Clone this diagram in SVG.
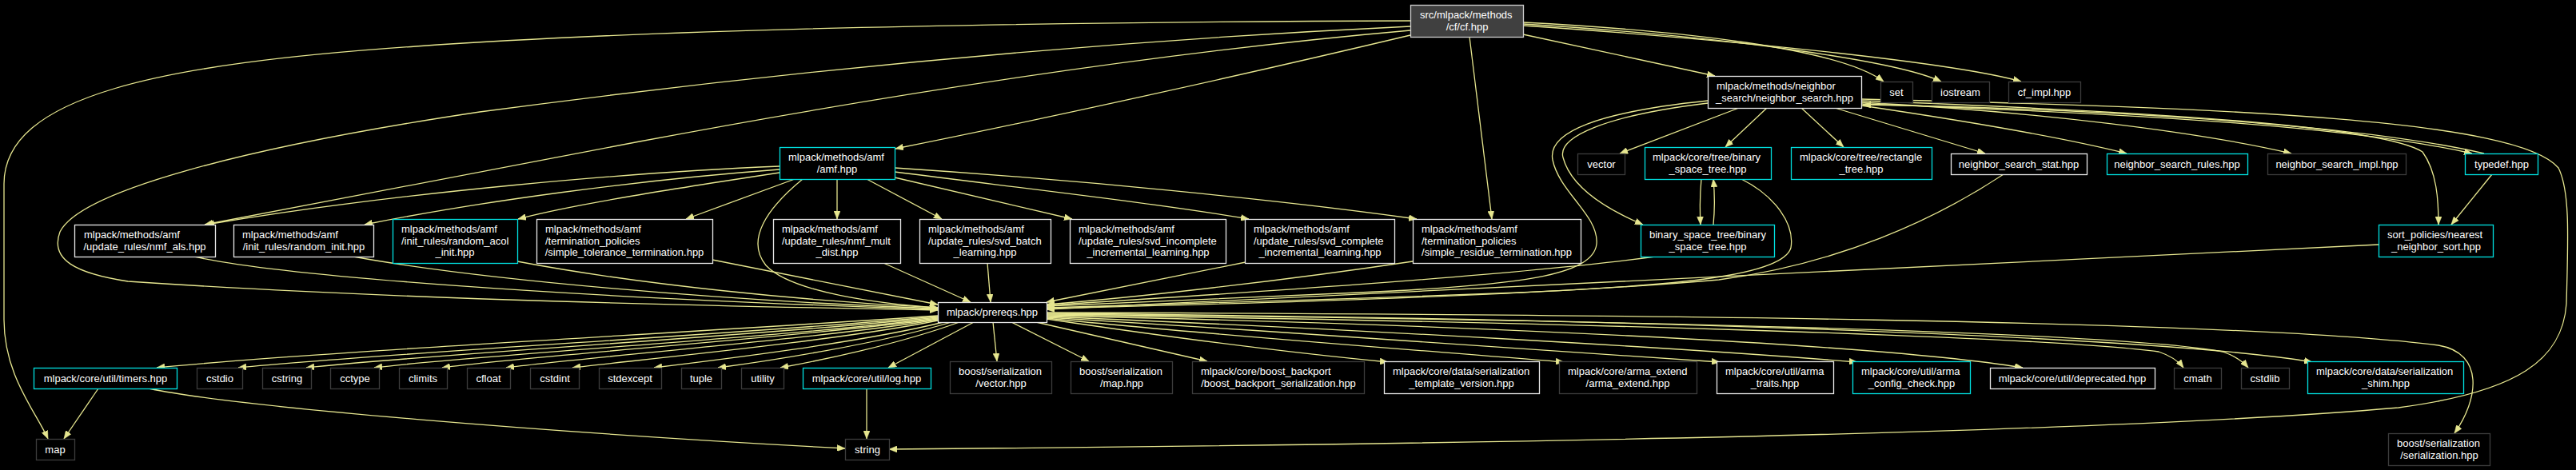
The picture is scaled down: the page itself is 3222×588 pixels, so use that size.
<svg xmlns="http://www.w3.org/2000/svg" width="3222" height="588" viewBox="0 0 3222 588">
<style>
rect{fill:#000;stroke-width:1.3}
.w rect{stroke:#e8e8e8}
.c rect{stroke:#00e0e0}
.d rect{stroke:#3c3c3c}
.r rect{fill:#404040;stroke:#cfcfcf}
text{font-family:"Liberation Sans",Arial,sans-serif;font-size:13px;fill:#fff}
.m{text-anchor:middle}
#edges path{fill:none;stroke:#e6e68f;stroke-width:1.3;marker-end:url(#a)}
</style>
<defs>
<marker id="a" viewBox="0 0 10 8" refX="10" refY="4" markerWidth="10" markerHeight="8" markerUnits="userSpaceOnUse" orient="auto">
<path d="M0,0 L10,4 L0,8 z" fill="#e6e68f" stroke="#e6e68f" stroke-width="0.5"/>
</marker>
</defs>
<rect x="0" y="0" width="3222" height="588" style="fill:#000;stroke:none"/>
<g id="edges">
<path d="M1764,26 C1200,28 800,38 520,58 C200,80 5,120 5,230 L5,400 C5,470 45,515 60,549"/>
<path d="M1764,33 C1300,55 900,100 600,140 C300,185 100,240 75,290 C62,325 95,342 160,352 C500,375 900,383 1173,388"/>
<path d="M1764,38 C1400,70 1050,130 800,177 C600,215 380,258 256,281"/>
<path d="M1764,44 C1550,95 1300,150 1120,186"/>
<path d="M1838,46 L1866,274"/>
<path d="M1905,43 L2145,95"/>
<path d="M1905,28 C2100,38 2300,60 2356,102"/>
<path d="M1905,30 C2150,45 2370,75 2428,102"/>
<path d="M1905,32 C2200,52 2450,80 2528,102"/>
<path d="M975,208 C800,215 500,240 258,281"/>
<path d="M975,212 C800,225 600,252 456,281"/>
<path d="M975,216 C850,235 720,255 648,274"/>
<path d="M994,224 L858,274"/>
<path d="M1004,224 C960,260 932,300 958,332 C990,366 1100,380 1173,385"/>
<path d="M1047,224 L1047,274"/>
<path d="M1084,224 L1178,274"/>
<path d="M1119,222 L1341,274"/>
<path d="M1119,215 C1300,238 1450,255 1562,274"/>
<path d="M1119,210 C1350,225 1600,250 1772,274"/>
<path d="M243,321 C350,345 700,372 1173,387"/>
<path d="M442,321 C600,350 900,376 1173,386"/>
<path d="M647,327 C800,356 1000,376 1173,385"/>
<path d="M891,325 L1173,381"/>
<path d="M1105,329 L1214,378"/>
<path d="M1235,329 L1239,378"/>
<path d="M1558,328 L1309,378"/>
<path d="M1767,327 C1600,352 1420,372 1309,381"/>
<path d="M2136,126 C2000,140 1935,165 1942,200 C1950,240 2000,270 1997,305 C1993,345 1900,357 1700,366 C1500,374 1400,379 1309,383"/>
<path d="M2136,129 C2005,145 1948,172 1955,197 C1965,235 2010,262 2055,281"/>
<path d="M2128,224 C2126,245 2126,262 2127,281"/>
<path d="M2143,281 C2145,260 2145,245 2143,224"/>
<path d="M2178,224 C2220,245 2245,280 2240,310 C2230,345 2100,357 1900,366 C1700,374 1450,381 1309,385"/>
<path d="M2070,321 C1900,345 1500,370 1309,382"/>
<path d="M2506,218 C2420,275 2300,330 2150,350 C1900,372 1500,381 1309,386"/>
<path d="M2975,306 C2600,325 2000,352 1309,387"/>
<path d="M2175,135 L2026,192"/>
<path d="M2210,135 L2158,184"/>
<path d="M2253,135 L2306,184"/>
<path d="M2295,135 L2483,192"/>
<path d="M2328,132 C2450,150 2580,172 2660,192"/>
<path d="M2328,128 C2550,140 2750,165 2866,192"/>
<path d="M2328,130 C2700,143 2950,160 3092,192"/>
<path d="M3107,192 C2950,155 2600,135 2330,131"/>
<path d="M2328,126 C2700,140 2980,158 3030,190 C3048,215 3050,250 3050,281"/>
<path d="M3117,218 L3066,281"/>
<path d="M2328,124 C2800,135 3150,150 3200,210 C3215,240 3212,300 3210,380 C3205,450 3150,490 3000,510 C2600,545 1700,557 1112,562"/>
<path d="M1173,395 C800,420 400,440 196,460"/>
<path d="M1173,396 C900,420 500,440 298,460"/>
<path d="M1173,397 C950,420 550,442 383,460"/>
<path d="M1173,398 C1000,420 600,444 468,460"/>
<path d="M1173,399 C1000,422 650,446 553,460"/>
<path d="M1173,400 C1020,424 720,448 633,460"/>
<path d="M1173,401 C1050,426 800,450 716,460"/>
<path d="M1180,403 C1080,428 900,450 818,460"/>
<path d="M1190,403 C1100,430 960,452 898,460"/>
<path d="M1200,403 C1120,432 1020,452 976,460"/>
<path d="M1218,403 L1111,460"/>
<path d="M1242,403 L1247,452"/>
<path d="M1265,403 L1362,452"/>
<path d="M1296,403 L1510,452"/>
<path d="M1309,399 C1450,420 1600,440 1736,453"/>
<path d="M1309,398 C1500,418 1800,440 1956,453"/>
<path d="M1309,397 C1600,415 1950,438 2151,453"/>
<path d="M1309,396 C1700,412 2100,435 2323,453"/>
<path d="M1309,395 C1800,405 2350,430 2530,460"/>
<path d="M1309,394 C1900,402 2550,420 2700,440 C2715,445 2725,452 2731,460"/>
<path d="M1309,393 C2000,400 2650,415 2780,440 C2795,445 2805,452 2812,460"/>
<path d="M1309,392 C2000,398 2700,420 2892,453"/>
<path d="M1309,391 C2000,393 2800,400 3050,432 C3108,442 3100,500 3070,542"/>
<path d="M123,486 L80,549"/>
<path d="M186,486 C300,510 700,542 1057,561"/>
<path d="M1084,486 L1084,549"/>
</g>
<g id="root" class="r"><rect x="1764.5" y="6.5" width="141" height="40"/><text x="1776" y="22.5">src/mlpack/methods</text><text class="m" x="1835" y="37.5">/cf/cf.hpp</text></g>
<g id="neighbor_search" class="w"><rect x="2136.5" y="95.5" width="192" height="40"/><text x="2147" y="111.5">mlpack/methods/neighbor</text><text class="m" x="2232" y="126.5">_search/neighbor_search.hpp</text></g>
<g id="set" class="d"><rect x="2352.5" y="102.5" width="40" height="26"/><text class="m" x="2372" y="119.5">set</text></g>
<g id="iostream" class="d"><rect x="2416.5" y="102.5" width="72" height="26"/><text class="m" x="2452" y="119.5">iostream</text></g>
<g id="cf_impl" class="d"><rect x="2512.5" y="102.5" width="90" height="26"/><text class="m" x="2557" y="119.5">cf_impl.hpp</text></g>
<g id="amf" class="c"><rect x="975.5" y="184.5" width="144" height="40"/><text x="986" y="200.5">mlpack/methods/amf</text><text class="m" x="1047" y="215.5">/amf.hpp</text></g>
<g id="vector" class="d"><rect x="1973.5" y="192.5" width="59" height="26"/><text class="m" x="2003" y="209.5">vector</text></g>
<g id="bst" class="c"><rect x="2057.5" y="184.5" width="158" height="40"/><text x="2067" y="200.5">mlpack/core/tree/binary</text><text class="m" x="2136" y="215.5">_space_tree.hpp</text></g>
<g id="rectangle_tree" class="c"><rect x="2240.5" y="184.5" width="176" height="40"/><text x="2251" y="200.5">mlpack/core/tree/rectangle</text><text class="m" x="2328" y="215.5">_tree.hpp</text></g>
<g id="ns_stat" class="w"><rect x="2440.5" y="192.5" width="170" height="26"/><text class="m" x="2525" y="209.5">neighbor_search_stat.hpp</text></g>
<g id="ns_rules" class="c"><rect x="2635.5" y="192.5" width="176" height="26"/><text class="m" x="2723" y="209.5">neighbor_search_rules.hpp</text></g>
<g id="ns_impl" class="d"><rect x="2836.5" y="192.5" width="173" height="26"/><text class="m" x="2923" y="209.5">neighbor_search_impl.hpp</text></g>
<g id="typedef" class="c"><rect x="3083.5" y="192.5" width="91" height="26"/><text class="m" x="3129" y="209.5">typedef.hpp</text></g>
<g id="nmf_als" class="w"><rect x="93.5" y="281.5" width="176" height="40"/><text x="105" y="297.5">mlpack/methods/amf</text><text class="m" x="181" y="312.5">/update_rules/nmf_als.hpp</text></g>
<g id="random_init" class="w"><rect x="292.5" y="281.5" width="175" height="40"/><text x="303" y="297.5">mlpack/methods/amf</text><text class="m" x="380" y="312.5">/init_rules/random_init.hpp</text></g>
<g id="random_acol" class="c"><rect x="491.5" y="274.5" width="156" height="55"/><text x="502" y="290.5">mlpack/methods/amf</text><text x="502" y="305.5">/init_rules/random_acol</text><text class="m" x="569" y="319.5">_init.hpp</text></g>
<g id="simple_tolerance" class="w"><rect x="671.5" y="274.5" width="220" height="55"/><text x="682" y="290.5">mlpack/methods/amf</text><text x="682" y="305.5">/termination_policies</text><text class="m" x="781" y="319.5">/simple_tolerance_termination.hpp</text></g>
<g id="nmf_mult" class="w"><rect x="967.5" y="274.5" width="159" height="55"/><text x="978" y="290.5">mlpack/methods/amf</text><text x="978" y="305.5">/update_rules/nmf_mult</text><text class="m" x="1047" y="319.5">_dist.hpp</text></g>
<g id="svd_batch" class="w"><rect x="1150.5" y="274.5" width="164" height="55"/><text x="1161" y="290.5">mlpack/methods/amf</text><text x="1161" y="305.5">/update_rules/svd_batch</text><text class="m" x="1232" y="319.5">_learning.hpp</text></g>
<g id="svd_incomplete" class="w"><rect x="1338.5" y="274.5" width="195" height="55"/><text x="1349" y="290.5">mlpack/methods/amf</text><text x="1349" y="305.5">/update_rules/svd_incomplete</text><text class="m" x="1436" y="319.5">_incremental_learning.hpp</text></g>
<g id="svd_complete" class="w"><rect x="1557.5" y="274.5" width="187" height="55"/><text x="1568" y="290.5">mlpack/methods/amf</text><text x="1568" y="305.5">/update_rules/svd_complete</text><text class="m" x="1651" y="319.5">_incremental_learning.hpp</text></g>
<g id="simple_residue" class="w"><rect x="1767.5" y="274.5" width="210" height="55"/><text x="1778" y="290.5">mlpack/methods/amf</text><text x="1778" y="305.5">/termination_policies</text><text class="m" x="1872" y="319.5">/simple_residue_termination.hpp</text></g>
<g id="bst_inner" class="c"><rect x="2052.5" y="281.5" width="167" height="40"/><text x="2063" y="297.5">binary_space_tree/binary</text><text class="m" x="2136" y="312.5">_space_tree.hpp</text></g>
<g id="nearest_neighbor_sort" class="c"><rect x="2975.5" y="281.5" width="143" height="40"/><text x="2986" y="297.5">sort_policies/nearest</text><text class="m" x="3047" y="312.5">_neighbor_sort.hpp</text></g>
<g id="prereqs" class="w"><rect x="1173.5" y="378.5" width="136" height="25"/><text class="m" x="1241" y="395">mlpack/prereqs.hpp</text></g>
<g id="timers" class="c"><rect x="42.5" y="460.5" width="179" height="26"/><text class="m" x="132" y="477.5">mlpack/core/util/timers.hpp</text></g>
<g id="cstdio" class="d"><rect x="246.5" y="460.5" width="57" height="26"/><text class="m" x="275" y="477.5">cstdio</text></g>
<g id="cstring" class="d"><rect x="328.5" y="460.5" width="61" height="26"/><text class="m" x="359" y="477.5">cstring</text></g>
<g id="cctype" class="d"><rect x="413.5" y="460.5" width="61" height="26"/><text class="m" x="444" y="477.5">cctype</text></g>
<g id="climits" class="d"><rect x="499.5" y="460.5" width="60" height="26"/><text class="m" x="529" y="477.5">climits</text></g>
<g id="cfloat" class="d"><rect x="584.5" y="460.5" width="54" height="26"/><text class="m" x="611" y="477.5">cfloat</text></g>
<g id="cstdint" class="d"><rect x="663.5" y="460.5" width="61" height="26"/><text class="m" x="694" y="477.5">cstdint</text></g>
<g id="stdexcept" class="d"><rect x="749.5" y="460.5" width="78" height="26"/><text class="m" x="788" y="477.5">stdexcept</text></g>
<g id="tuple" class="d"><rect x="852.5" y="460.5" width="50" height="26"/><text class="m" x="877" y="477.5">tuple</text></g>
<g id="utility" class="d"><rect x="927.5" y="460.5" width="53" height="26"/><text class="m" x="954" y="477.5">utility</text></g>
<g id="log" class="c"><rect x="1004.5" y="460.5" width="160" height="26"/><text class="m" x="1084" y="477.5">mlpack/core/util/log.hpp</text></g>
<g id="bs_vector" class="d"><rect x="1188.5" y="452.5" width="127" height="40"/><text x="1199" y="468.5">boost/serialization</text><text class="m" x="1252" y="483.5">/vector.hpp</text></g>
<g id="bs_map" class="d"><rect x="1339.5" y="452.5" width="127" height="40"/><text x="1350" y="468.5">boost/serialization</text><text class="m" x="1403" y="483.5">/map.hpp</text></g>
<g id="boost_backport" class="d"><rect x="1491.5" y="452.5" width="215" height="40"/><text x="1502" y="468.5">mlpack/core/boost_backport</text><text class="m" x="1599" y="483.5">/boost_backport_serialization.hpp</text></g>
<g id="template_version" class="w"><rect x="1731.5" y="452.5" width="194" height="40"/><text x="1742" y="468.5">mlpack/core/data/serialization</text><text class="m" x="1828" y="483.5">_template_version.hpp</text></g>
<g id="arma_extend" class="d"><rect x="1950.5" y="452.5" width="172" height="40"/><text x="1961" y="468.5">mlpack/core/arma_extend</text><text class="m" x="2036" y="483.5">/arma_extend.hpp</text></g>
<g id="arma_traits" class="w"><rect x="2147.5" y="452.5" width="146" height="40"/><text x="2158" y="468.5">mlpack/core/util/arma</text><text class="m" x="2220" y="483.5">_traits.hpp</text></g>
<g id="arma_config_check" class="c"><rect x="2317.5" y="452.5" width="147" height="40"/><text x="2328" y="468.5">mlpack/core/util/arma</text><text class="m" x="2391" y="483.5">_config_check.hpp</text></g>
<g id="deprecated" class="w"><rect x="2489.5" y="460.5" width="206" height="26"/><text class="m" x="2592" y="477.5">mlpack/core/util/deprecated.hpp</text></g>
<g id="cmath" class="d"><rect x="2719.5" y="460.5" width="59" height="26"/><text class="m" x="2749" y="477.5">cmath</text></g>
<g id="cstdlib" class="d"><rect x="2803.5" y="460.5" width="60" height="26"/><text class="m" x="2833" y="477.5">cstdlib</text></g>
<g id="serialization_shim" class="c"><rect x="2886.5" y="452.5" width="195" height="40"/><text x="2897" y="468.5">mlpack/core/data/serialization</text><text class="m" x="2984" y="483.5">_shim.hpp</text></g>
<g id="map" class="d"><rect x="45.5" y="549.5" width="48" height="26"/><text class="m" x="69" y="566.5">map</text></g>
<g id="string" class="d"><rect x="1057.5" y="549.5" width="55" height="26"/><text class="m" x="1085" y="566.5">string</text></g>
<g id="bs_serialization" class="d"><rect x="2987.5" y="542.5" width="127" height="40"/><text x="2998" y="558.5">boost/serialization</text><text class="m" x="3051" y="573.5">/serialization.hpp</text></g>
</svg>
